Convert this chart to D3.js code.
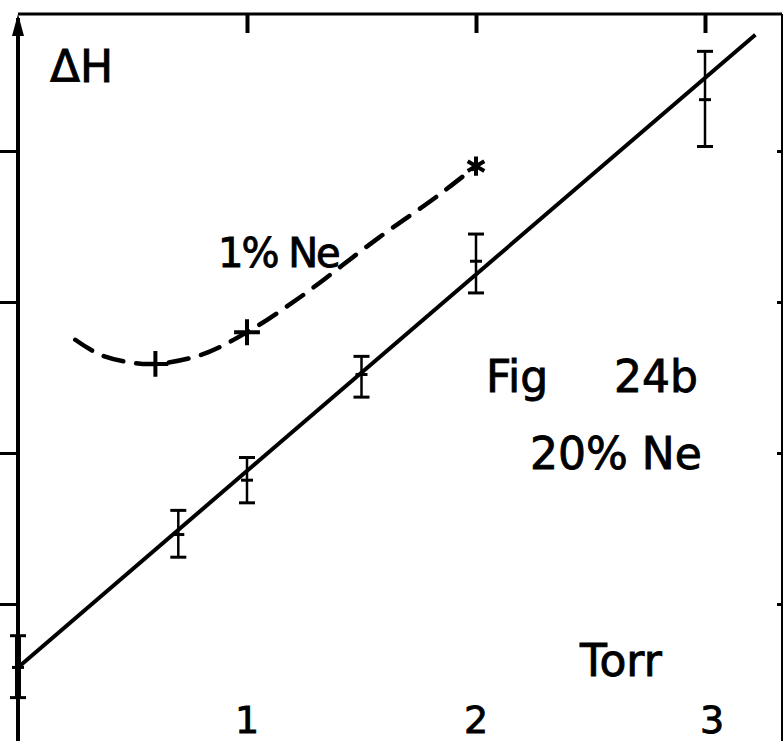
<!DOCTYPE html>
<html lang="en">
<head>
<meta charset="UTF-8">
<title>Fig 24b</title>
<script src="https://d3js.org/d3.v7.min.js"></script>
<style>
  body { margin: 0; background: #fff; }
  svg text { font-family: "DejaVu Sans", sans-serif; fill: #000; stroke: #000; stroke-width: 0.9px; }
  .tick line { stroke: #000; }
</style>
</head>
<body>
<div id="chart"></div>
<script>
// 20% Ne measurements (Torr vs ΔH, in tick units) with error bars
var torr   = [0, 0.7, 1.0, 1.5, 2.0, 3.0];
var dh20   = [0.58, 1.46, 1.82, 2.52, 3.27, 4.34];
var errLo  = [0.38, 1.31, 1.67, 2.37, 3.06, 4.03];
var errHi  = [0.79, 1.62, 1.97, 2.64, 3.45, 4.66];

// fitted straight line through 20% Ne
var fitTorr = [0, 3.22];
var fitDH   = [0.58, 4.77];

// 1% Ne dashed curve and its marks
var ne1Torr = [0.25, 0.36, 0.49, 0.6, 0.8, 1.0, 1.23, 1.57, 1.83, 2.0];
var ne1DH   = [2.75, 2.65, 2.60, 2.59, 2.65, 2.80, 3.03, 3.42, 3.70, 3.90];
var markTorr = [0.6, 1.0, 2.0];
var markDH   = [2.59, 2.80, 3.90];
var markType = ["plus", "plus", "asterisk"];

var xTicks = [1, 2, 3];
var yTicks = [1, 2, 3, 4];

var W = 784, H = 741;
var frameTop = 14, frameLeft = 18, frameRight = 782;

var svg = d3.select("#chart").append("svg")
    .attr("width", W).attr("height", H);

var x = d3.scaleLinear().domain([0, 3]).range([18, 705]);
var y = d3.scaleLinear().domain([0, 5]).range([755, 0]);

// frame
svg.append("line")
    .attr("x1", frameLeft).attr("x2", frameRight)
    .attr("y1", frameTop).attr("y2", frameTop)
    .attr("stroke", "#000").attr("stroke-width", 3);
svg.append("line")
    .attr("x1", frameRight).attr("x2", frameRight)
    .attr("y1", frameTop).attr("y2", H)
    .attr("stroke", "#000").attr("stroke-width", 2);
svg.append("line")
    .attr("x1", frameLeft).attr("x2", frameLeft)
    .attr("y1", frameTop + 4).attr("y2", H)
    .attr("stroke", "#000").attr("stroke-width", 4);
// arrow head on the ΔH axis
svg.append("path")
    .attr("d", "M" + frameLeft + "," + frameTop + " l-6,22 l12,0 z")
    .attr("fill", "#000");

// left ticks (outward)
svg.append("g")
    .attr("transform", "translate(" + frameLeft + ",0)")
    .call(d3.axisLeft(y).tickValues(yTicks).tickSize(18).tickFormat(""))
    .call(function (g) { g.select(".domain").remove(); })
    .selectAll("line").attr("stroke-width", 3);

// right ticks (small, inward)
svg.append("g")
    .attr("transform", "translate(" + frameRight + ",0)")
    .call(d3.axisRight(y).tickValues(yTicks).tickSize(-5).tickFormat(""))
    .call(function (g) { g.select(".domain").remove(); })
    .selectAll("line").attr("stroke-width", 3);

// top ticks (inward)
svg.append("g")
    .attr("transform", "translate(0," + frameTop + ")")
    .call(d3.axisTop(x).tickValues(xTicks).tickSize(-19).tickFormat(""))
    .call(function (g) { g.select(".domain").remove(); })
    .selectAll("line").attr("stroke-width", 4);

// bottom tick labels
svg.selectAll(".xlab")
    .data(xTicks)
    .enter().append("text")
    .attr("class", "xlab")
    .attr("x", function (d) { return x(d) + (d === 3 ? 7 : 0); })
    .attr("y", 733)
    .attr("text-anchor", "middle")
    .style("font-size", "38px")
    .text(function (d) { return d; });

// fitted line
var pts20 = torr.map(function (t, i) {
    return { t: t, v: dh20[i], lo: errLo[i], hi: errHi[i] };
});
var line = d3.line()
    .x(function (d) { return x(d[0]); })
    .y(function (d) { return y(d[1]); });
svg.append("path")
    .attr("d", line(fitTorr.map(function (t, i) { return [t, fitDH[i]]; })))
    .attr("fill", "none").attr("stroke", "#000").attr("stroke-width", 4);

// error bars
var eb = svg.selectAll(".eb").data(pts20).enter().append("g").attr("class", "eb")
    .attr("stroke", "#000");
eb.append("line")
    .attr("x1", function (d) { return x(d.t); }).attr("x2", function (d) { return x(d.t); })
    .attr("y1", function (d) { return y(d.lo); }).attr("y2", function (d) { return y(d.hi); })
    .attr("stroke-width", function (d) { return d.t === 0 ? 6 : 2.5; });
eb.selectAll(".cap")
    .data(function (d) { return [[d.t, d.lo, 8], [d.t, d.hi, 8], [d.t, d.v, 6]]; })
    .enter().append("line")
    .attr("x1", function (d) { return x(d[0]) - d[2]; })
    .attr("x2", function (d) { return x(d[0]) + d[2]; })
    .attr("y1", function (d) { return y(d[1]); })
    .attr("y2", function (d) { return y(d[1]); })
    .attr("stroke-width", 3);

// 1% Ne dashed curve
var curve = d3.line()
    .x(function (d) { return x(d[0]); })
    .y(function (d) { return y(d[1]); })
    .curve(d3.curveCatmullRom);
svg.append("path")
    .attr("d", curve(ne1Torr.map(function (t, i) { return [t, ne1DH[i]]; })))
    .attr("fill", "none").attr("stroke", "#000").attr("stroke-width", 4.5)
    .attr("stroke-dasharray", "20,13").attr("stroke-linecap", "round");

svg.selectAll(".mark")
    .data(markTorr.map(function (t, i) { return { t: t, v: markDH[i], type: markType[i] }; }))
    .enter().append("path")
    .attr("class", "mark")
    .attr("transform", function (d) { return "translate(" + x(d.t) + "," + y(d.v) + ")"; })
    .attr("d", function (d) {
        return d3.symbol()
            .type(d.type === "plus" ? d3.symbolPlus : d3.symbolAsterisk)
            .size(d.type === "plus" ? 220 : 260)();
    })
    .attr("fill", "none")
    .attr("stroke", "#000")
    .attr("stroke-width", 4);

// labels
svg.append("text").attr("x", 50).attr("y", 82).style("font-size", "44px").text("ΔH");
svg.append("text").attr("x", 218).attr("y", 267).style("font-size", "40px")
    .style("letter-spacing", "-2px").text("1% Ne");
svg.append("text").attr("x", 486).attr("y", 392).style("font-size", "44px").text("Fig");
svg.append("text").attr("x", 614).attr("y", 392).style("font-size", "44px").text("24b");
svg.append("text").attr("x", 530).attr("y", 469).style("font-size", "44px").text("20% Ne");
svg.append("text").attr("x", 580).attr("y", 676).style("font-size", "44px").text("Torr");
</script>
</body>
</html>
